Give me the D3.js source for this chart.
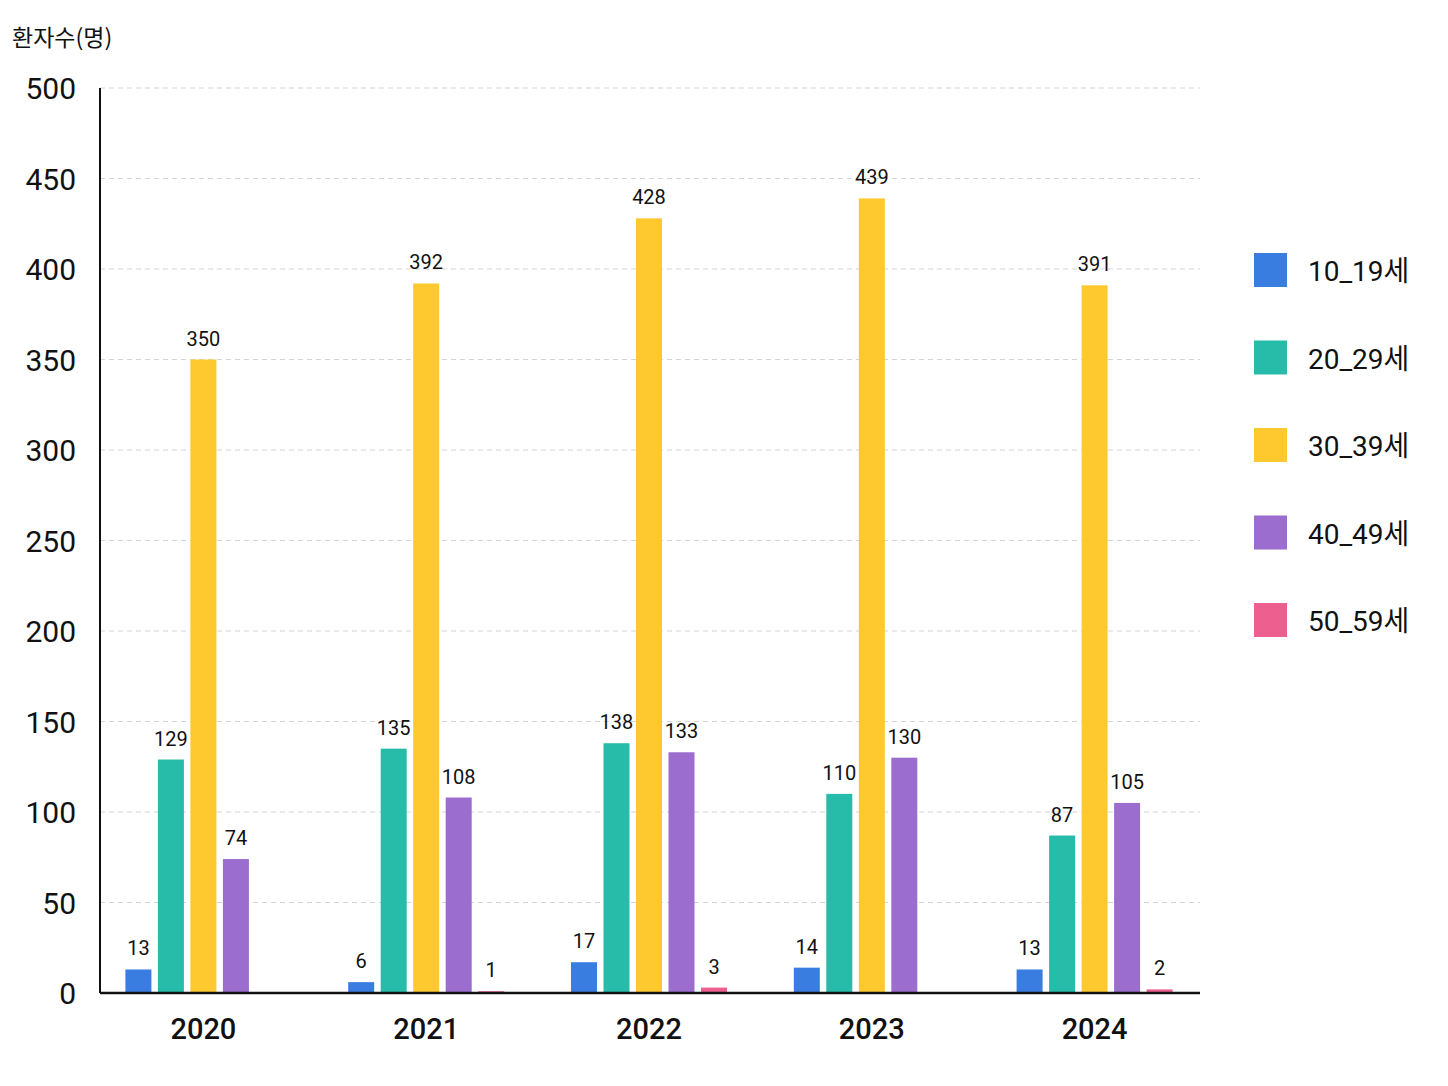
<!doctype html>
<html>
<head>
<meta charset="UTF-8">
<script src="https://d3js.org/d3.v7.min.js"></script>
<style>
body{margin:0;background:#fff;}
text{font-family:"Roboto","Noto Sans CJK KR",sans-serif;}
</style>
</head>
<body>
<svg id="chart" width="1448" height="1086"></svg>
<script>
var years = ["2020","2021","2022","2023","2024"];
var series = ["10_19세","20_29세","30_39세","40_49세","50_59세"];
var colors = ["#3a7de0","#27bba9","#fdc92f","#9a6dce","#ec5f8e"];
// null = no bar in that year
var values = [
  [13,129,350,74,null],
  [6,135,392,108,1],
  [17,138,428,133,3],
  [14,110,439,130,null],
  [13,87,391,105,2]
];
var yTicks = [0,50,100,150,200,250,300,350,400,450,500];

var svg = d3.select("#chart");
var pLeft = 100, pRight = 1200, pTop = 88, pBottom = 993;

var x = d3.scaleBand().domain(years).range([92, 1206]);
var xs = d3.scaleBand().domain(series).range([0, 156]).paddingInner(0.2);
var y = d3.scaleLinear().domain([0,500]).range([pBottom, pTop]);

// grid
svg.selectAll(".grid").data(yTicks.slice(1)).enter().append("line")
   .attr("x1", pLeft).attr("x2", pRight)
   .attr("y1", function(d){ return y(d); }).attr("y2", function(d){ return y(d); })
   .attr("stroke","#d5d5d5").attr("stroke-dasharray","5,4").attr("stroke-width",1);

// y labels
svg.selectAll(".ylab").data(yTicks).enter().append("text")
   .attr("x", 76).attr("y", function(d){ return y(d)+11; })
   .attr("text-anchor","end").attr("font-size",30).attr("fill","#111")
   .text(function(d){ return d; });

// bars
years.forEach(function(yr, i){
  var g0 = x(yr) + x.bandwidth()/2 - 78;
  values[i].forEach(function(v, j){
    if(v === null) return;
    var bx = g0 + xs(series[j]);
    svg.append("rect")
       .attr("x", bx).attr("y", y(v))
       .attr("width", xs.bandwidth()).attr("height", pBottom - y(v))
       .attr("fill", colors[j]);
    svg.append("text")
       .attr("x", bx + xs.bandwidth()/2).attr("y", y(v) - 14)
       .attr("text-anchor","middle").attr("font-size",20).attr("fill","#111")
       .text(v);
  });
  svg.append("text")
     .attr("x", x(yr) + x.bandwidth()/2).attr("y", 1039)
     .attr("text-anchor","middle").attr("font-size",29).attr("font-weight","500").attr("fill","#111")
     .text(yr);
});

// axes
svg.append("line").attr("x1",pLeft).attr("x2",pLeft).attr("y1",pTop).attr("y2",pBottom)
   .attr("stroke","#111").attr("stroke-width",2);
svg.append("line").attr("x1",pLeft).attr("x2",pRight).attr("y1",pBottom).attr("y2",pBottom)
   .attr("stroke","#111").attr("stroke-width",2.5);

// title
svg.append("text").attr("x",12).attr("y",46).attr("font-size",23).attr("fill","#111")
   .style("font-family","'Noto Sans CJK KR',sans-serif").text("환자수(명)");

// legend
series.forEach(function(s, j){
  var ly = 270 + j*87.5;
  svg.append("rect").attr("x",1254).attr("y",ly-17).attr("width",33).attr("height",34).attr("fill",colors[j]);
  svg.append("text").attr("x",1308).attr("y",ly+11).attr("font-size",28).attr("fill","#111").text(s);
});
</script>
</body>
</html>
